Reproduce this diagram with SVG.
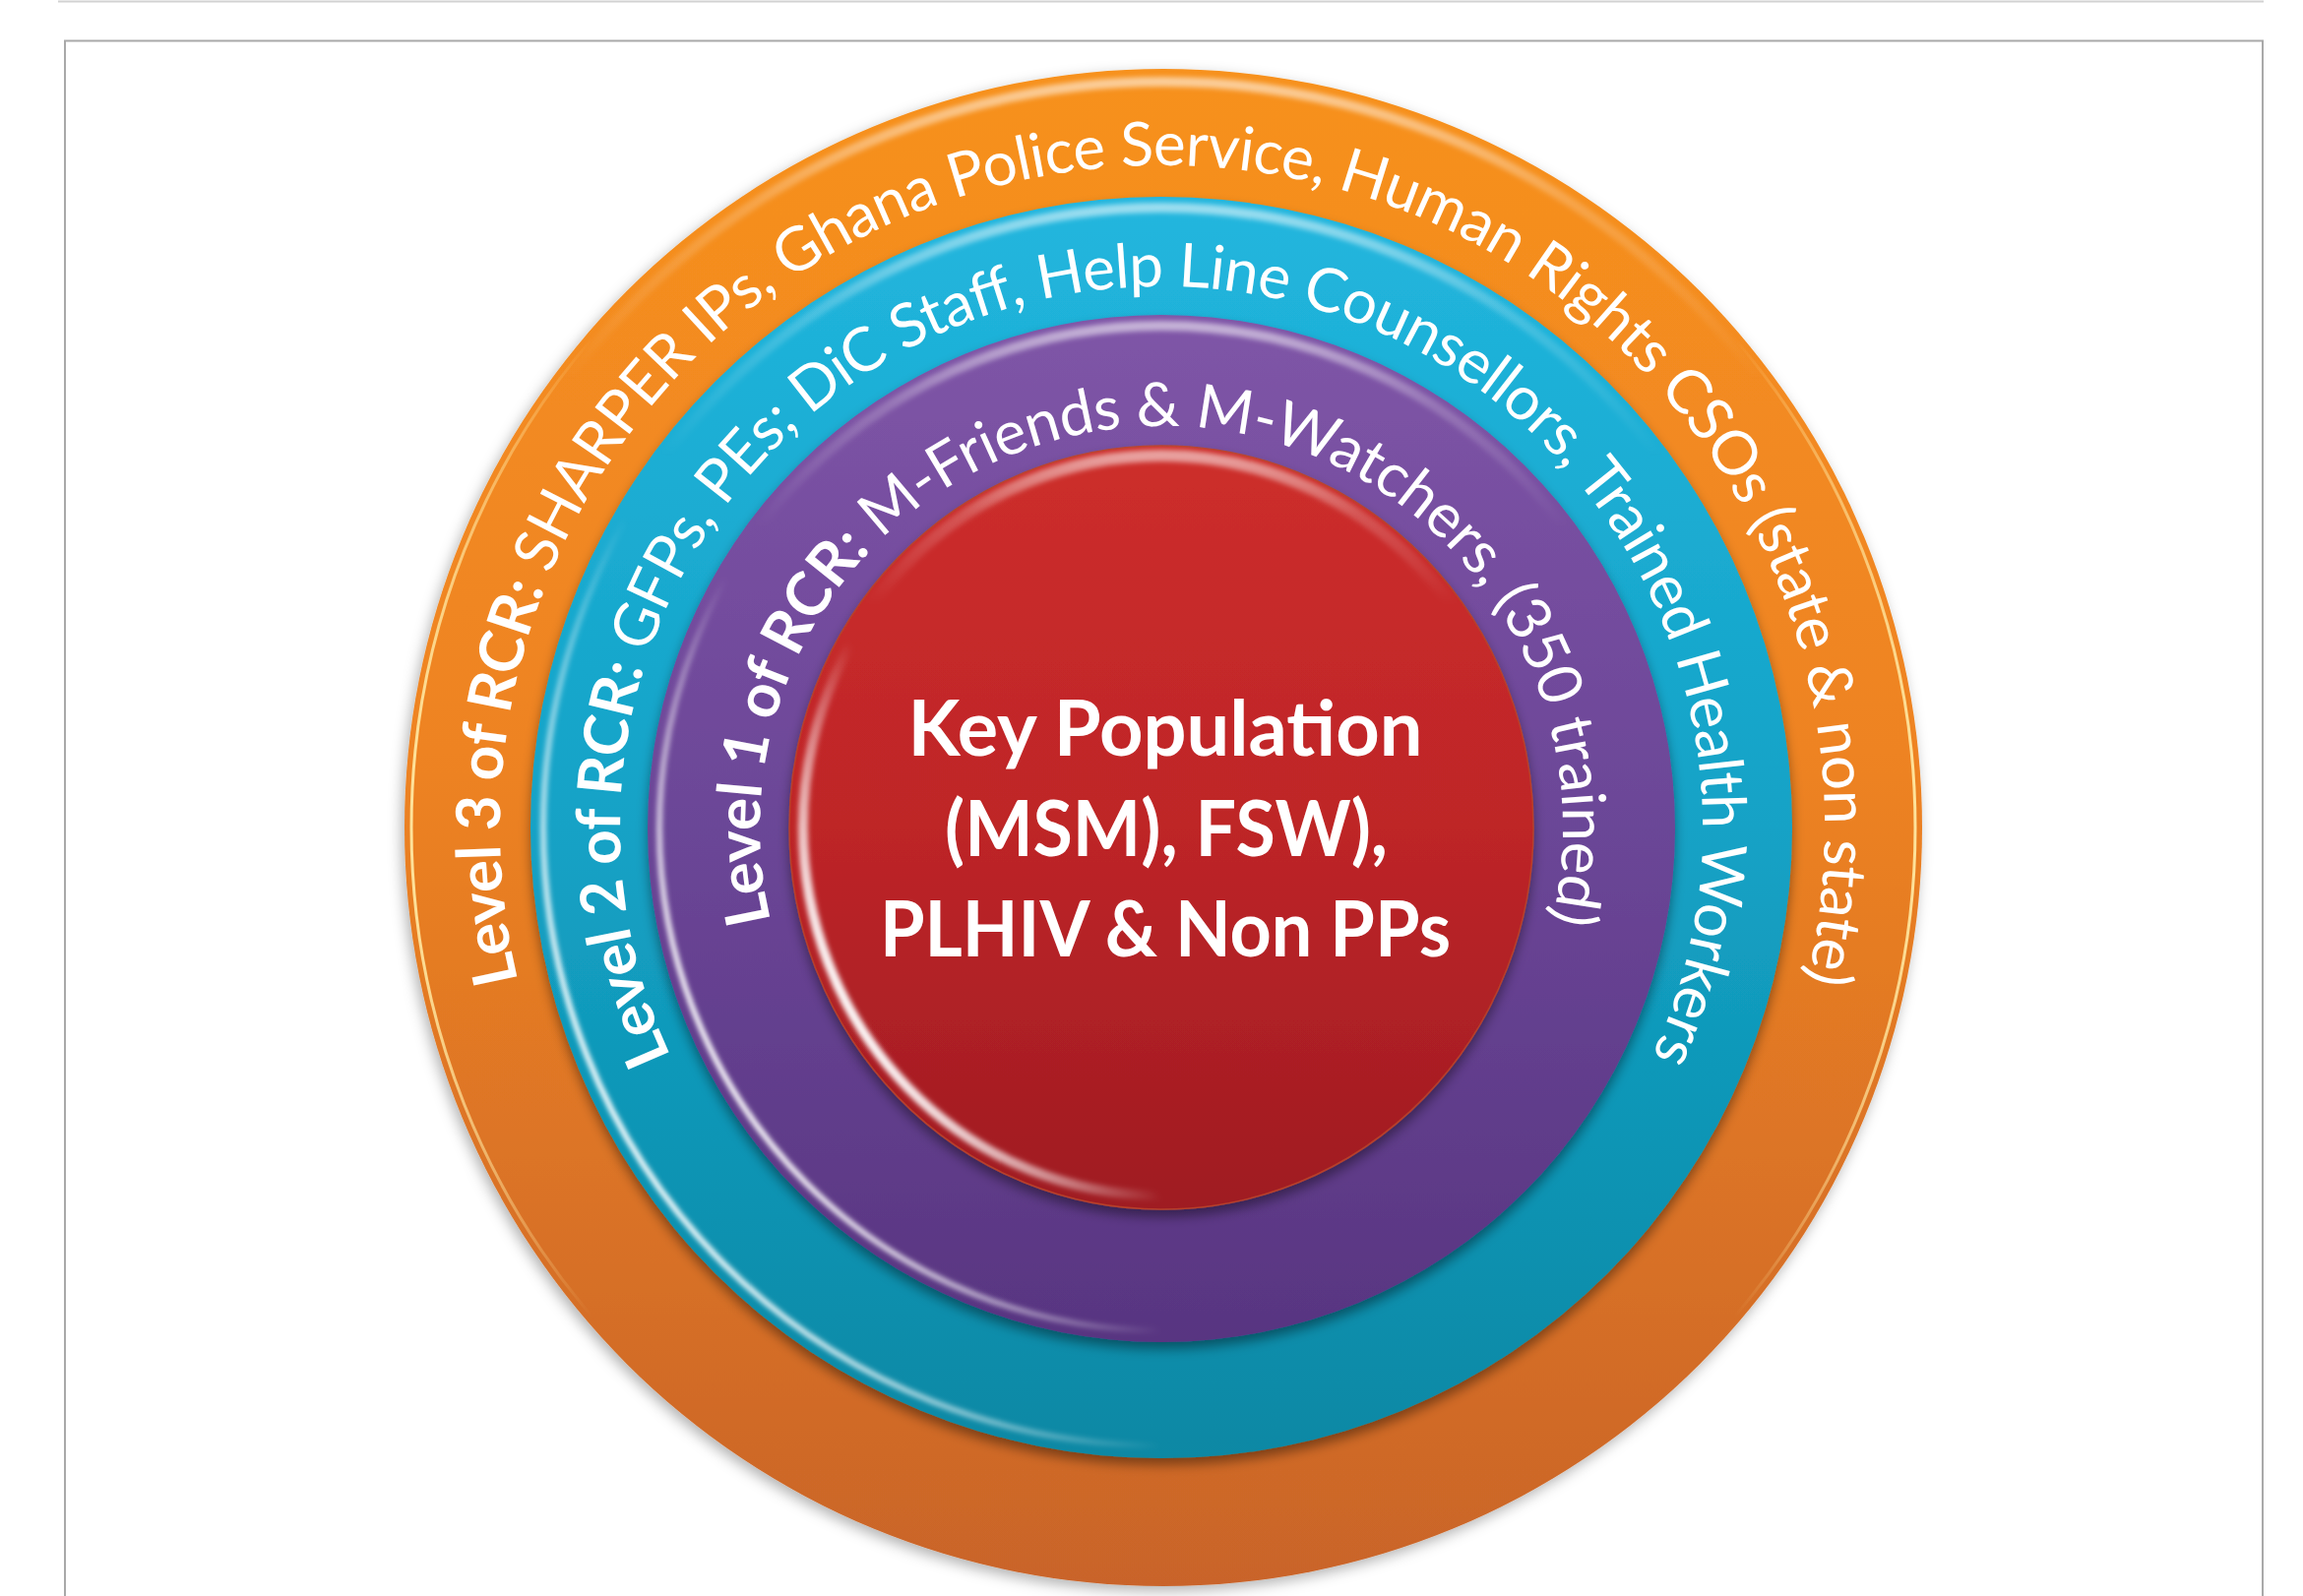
<svg xmlns="http://www.w3.org/2000/svg" width="2340" height="1622" viewBox="0 0 2340 1622">
<style>
.ring{font-family:Lato,"Open Sans","DejaVu Sans",sans-serif;font-size:62px;fill:#fff}
.b{font-weight:700}
.core{font-family:Lato,"Open Sans","DejaVu Sans",sans-serif;font-weight:700;font-size:79px;fill:#fff;text-anchor:middle}
.frame{fill:none;stroke:#a9a9a9;stroke-width:2}
.topline{fill:none;stroke:#d2d2d2;stroke-width:2}
.hl{fill:none;stroke:url(#hlLL);filter:url(#soft)}
.top{fill:none;stroke:url(#hlTop);filter:url(#soft)}
</style>
<defs>
<linearGradient id="gOrange" x1="0" y1="0" x2="0" y2="1">
<stop offset="0" stop-color="#F7911E"/><stop offset="0.45" stop-color="#EE8322"/><stop offset="1" stop-color="#C96429"/>
</linearGradient>
<linearGradient id="gTeal" x1="0" y1="0" x2="0" y2="1">
<stop offset="0" stop-color="#22B6DE"/><stop offset="0.5" stop-color="#14A2C6"/><stop offset="1" stop-color="#0A88A4"/>
</linearGradient>
<linearGradient id="gPurple" x1="0" y1="0" x2="0" y2="1">
<stop offset="0" stop-color="#7F55A7"/><stop offset="0.5" stop-color="#6B4697"/><stop offset="1" stop-color="#583581"/>
</linearGradient>
<linearGradient id="gRed" x1="0" y1="0" x2="0" y2="1">
<stop offset="0" stop-color="#CD2E2A"/><stop offset="0.5" stop-color="#BE2528"/><stop offset="1" stop-color="#9F1B22"/>
</linearGradient>
<linearGradient id="hlLL" x1="0.067" y1="0.75" x2="0.5" y2="0.5">
<stop offset="0" stop-color="#fff" stop-opacity="0.95"/><stop offset="0.25" stop-color="#fff" stop-opacity="0.5"/><stop offset="0.5" stop-color="#fff" stop-opacity="0"/>
</linearGradient>
<linearGradient id="hlTop" x1="0" y1="0" x2="0" y2="1">
<stop offset="0" stop-color="#fff" stop-opacity="0.55"/><stop offset="0.08" stop-color="#fff" stop-opacity="0.2"/><stop offset="0.2" stop-color="#fff" stop-opacity="0"/>
</linearGradient>
<linearGradient id="rimSide" x1="0" y1="0" x2="1" y2="0">
<stop offset="0" stop-color="#FFE7A0" stop-opacity="0.95"/><stop offset="0.12" stop-color="#FFE7A0" stop-opacity="0"/><stop offset="0.88" stop-color="#FFE7A0" stop-opacity="0"/><stop offset="1" stop-color="#FFE7A0" stop-opacity="0.95"/>
</linearGradient>
<filter id="ds" x="-10%" y="-10%" width="120%" height="125%">
<feDropShadow dx="0" dy="7" stdDeviation="6" flood-color="#000" flood-opacity="0.4"/>
</filter>
<filter id="outer" x="-10%" y="-10%" width="120%" height="125%">
<feDropShadow dx="-3" dy="5" stdDeviation="7" flood-color="#000" flood-opacity="0.3"/>
</filter>
<filter id="soft" x="-10%" y="-10%" width="120%" height="120%">
<feGaussianBlur stdDeviation="2.5"/>
</filter>
<path id="pL3" d="M1181,1514 A673,673 0 1 1 1181,168 A673,673 0 1 1 1181,1514"/>
<path id="pL2" d="M1180,1391 A550,550 0 1 1 1180,291 A550,550 0 1 1 1180,1391"/>
<path id="pL1" d="M1180,1249 A408,408 0 1 1 1180,433 A408,408 0 1 1 1180,1249"/>
</defs>

<g id="page-frame">
<path class="topline" d="M59,1.5 H2300"/>
<path class="frame" d="M66,1622 V41.5 H2299 V1622"/>
</g>

<g id="node-level3">
<circle cx="1182" cy="841" r="771" fill="url(#gOrange)" filter="url(#outer)"/>
<circle cx="1182" cy="841" r="764" fill="none" stroke="url(#rimSide)" stroke-width="3"/>
<circle cx="1182" cy="841" r="758" class="top" stroke-width="10"/>
<text class="ring"><textPath href="#pL3" startOffset="50%" text-anchor="middle" textLength="2429" lengthAdjust="spacing"><tspan class="b">Level 3 of RCR:</tspan> SHARPER IPs, Ghana Police Service, Human Rights CSOs (state &amp; non state)</textPath></text>
</g>

<g id="node-level2">
<circle cx="1180" cy="841" r="641" fill="url(#gTeal)" filter="url(#ds)"/>
<circle cx="1180" cy="841" r="628" class="hl" stroke-width="6"/>
<circle cx="1180" cy="841" r="630" class="top" stroke-width="10"/>
<text class="ring"><textPath href="#pL2" startOffset="50%" text-anchor="middle" textLength="2208" lengthAdjust="spacing"><tspan class="b">Level 2 of RCR:</tspan> GFPs, PEs; DiC Staff, Help Line Counsellors, Trained Health Workers</textPath></text>
</g>

<g id="node-level1">
<circle cx="1180" cy="842" r="522" fill="url(#gPurple)" filter="url(#ds)"/>
<circle cx="1180" cy="842" r="510" class="hl" stroke-width="6"/>
<circle cx="1180" cy="842" r="511" class="top" stroke-width="10"/>
<text class="ring"><textPath href="#pL1" startOffset="50%" text-anchor="middle" textLength="1474" lengthAdjust="spacing"><tspan class="b">Level 1 of RCR:</tspan> M-Friends &amp; M-Watchers, (350 trained)</textPath></text>
</g>

<g id="node-core">
<ellipse cx="1180" cy="841" rx="378" ry="388" fill="url(#gRed)" stroke="#B8402A" stroke-width="1.5" filter="url(#ds)"/>
<ellipse cx="1180" cy="841" rx="364" ry="374" class="hl" stroke-width="10"/>
<ellipse cx="1180" cy="841" rx="368" ry="378" class="top" stroke-width="12"/>
<text class="core" x="1184" y="768" textLength="523" lengthAdjust="spacingAndGlyphs">Key Population</text>
<text class="core" x="1185" y="870" textLength="450" lengthAdjust="spacingAndGlyphs">(MSM), FSW),</text>
<text class="core" x="1184" y="972" textLength="580" lengthAdjust="spacingAndGlyphs">PLHIV &amp; Non PPs</text>
</g>

<g id="connectors"/>
</svg>
